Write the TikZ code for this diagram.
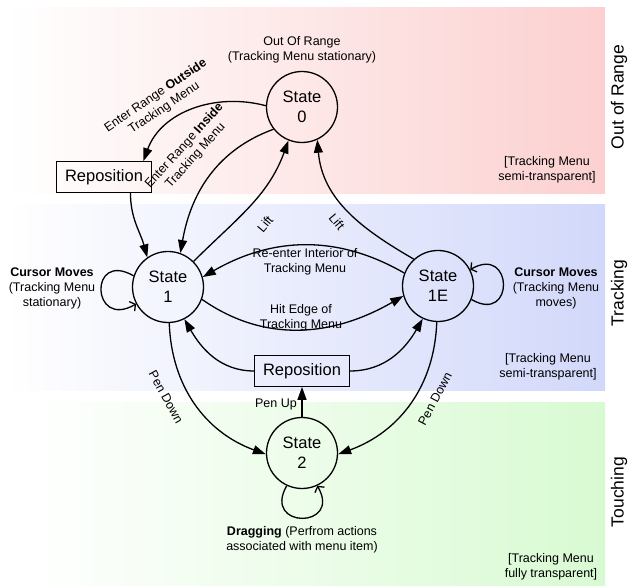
\documentclass[tikz,border=0pt]{standalone}
\usepackage{fontspec}
\setmainfont{Liberation Sans}
\usetikzlibrary{arrows.meta,calc}
\definecolor{rangepink}{HTML}{FCD0D0}
\definecolor{trackblue}{HTML}{D2D8FA}
\definecolor{touchgreen}{HTML}{D8FAD2}
\begin{document}
\begin{tikzpicture}[x=1pt,y=1pt,
  state/.style={circle,draw,line width=1.3pt,minimum size=71pt,inner sep=0pt,
    align=center,font=\fontsize{16.5}{20}\selectfont},
  repbox/.style={draw,line width=0.8pt,minimum width=95pt,minimum height=31pt,
    inner sep=0pt,font=\fontsize{16.5}{20}\selectfont},
  lbl/.style={align=center,inner sep=0pt,font=\fontsize{12.5}{15}\selectfont},
  side/.style={rotate=90,inner sep=0pt,font=\fontsize{17.5}{20}\selectfont},
  arr/.style={line width=1.3pt,-{Triangle[length=13pt,width=9pt]}},
  looparr/.style={line width=1.3pt,-{Straight Barb[length=4pt,width=11pt]}}]
\useasboundingbox (0,0) rectangle (628,586);

% background bands
\shade[left color=white,right color=rangepink] (5,392) rectangle (605,578);
\shade[left color=white,right color=trackblue] (5,195) rectangle (605,381);
\shade[left color=white,right color=touchgreen] (27,1) rectangle (605,183);

% band titles
\node[side] (trange) at (619,489) {Out of Range};
\node[side] (ttrack) at (619,293) {Tracking};
\node[side] (ttouch) at (619,94) {Touching};

% states
\node[state] (s0) at (302,479) {State\\0};
\node[state] (s1) at (168,299) {State\\1};
\node[state] (s1e) at (438,300) {State\\1E};
\node[state] (s2) at (302,133) {State\\2};
\node[repbox] (rep1) at (104,409) {Reposition};
\node[repbox] (rep2) at (302,215) {Reposition};

% descriptive texts
\node[lbl] (d0) at (302,536) {Out Of Range\\(Tracking Menu stationary)};
\node[lbl] (n0) at (547,416) {[Tracking Menu\\semi-transparent]};
\node[lbl] (n1) at (548,219) {[Tracking Menu\\semi-transparent]};
\node[lbl] (n2) at (551,19) {[Tracking Menu\\fully transparent]};
\node[lbl] (d1) at (52,298) {\textbf{Cursor Moves}\\(Tracking Menu\\stationary)};
\node[lbl] (d1e) at (556,298) {\textbf{Cursor Moves}\\(Tracking Menu\\moves)};
\node[lbl] (d2) at (302,46) {\textbf{Dragging} (Perfrom actions\\associated with menu item)};

% transitions
\draw[arr] (s0.178) to[out=165,in=70] (rep1.22);
\draw[arr] (s0.218) to[out=200,in=80] (s1.70);
\draw[arr] (rep1.-31) to[out=-90,in=105] (s1.125);
\draw[arr] (s1.45) to[out=45,in=-110] (s0.248);
\draw[arr] (s1e.132) to[out=150,in=-85] (s0.-65);
\draw[arr] (s1e.159) to[out=150,in=30] (s1.16);
\draw[arr] (s1.-20) to[out=-35,in=-150] (s1e.196);
\draw[arr] (rep2.west) to[out=180,in=-60] (s1.-63);
\draw[arr] (rep2.east) to[out=0,in=-120] (s1e.-115);
\draw[arr] (s2.north) -- (rep2.south);
\draw[arr] (s1.-88) to[out=-88,in=160] (s2.182);
\draw[arr] (s1e.-92) to[out=-92,in=20] (s2.-2);

% self loops
\draw[looparr] (s1.162) .. controls +(150:52) and +(210:52) .. (s1.208);
\draw[looparr] (s1e.-22) .. controls +(-30:50) and +(30:50) .. (s1e.27);
\draw[looparr] (s2.-115) .. controls +(-120:50) and +(-60:50) .. (s2.-65);

% transition labels
\node[lbl,rotate=34] (eo) at (160,484) {Enter Range \textbf{Outside}\\Tracking Menu};
\node[lbl,rotate=48] (ei) at (190,435) {Enter Range \textbf{Inside}\\Tracking Menu};
\node[lbl,rotate=50] (lift1) at (265,362) {Lift};
\node[lbl,rotate=-50] (lift2) at (337,364) {Lift};
\node[lbl] (re) at (305,324) {Re-enter Interior of\\Tracking Menu};
\node[lbl] (he) at (301,268) {Hit Edge of\\Tracking Menu};
\node[lbl,anchor=east] (pu) at (297,182) {Pen Up};
\node[lbl,rotate=-61] (pd1) at (166,189) {Pen Down};
\node[lbl,rotate=62] (pd2) at (435,187) {Pen Down};
\end{tikzpicture}
\end{document}
